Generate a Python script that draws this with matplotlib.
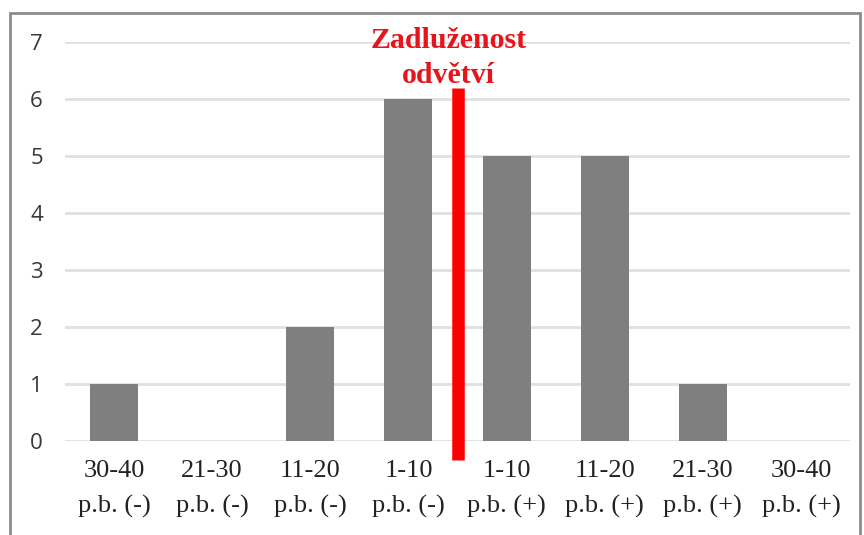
import matplotlib.pyplot as plt
from matplotlib.patches import Rectangle

categories = ["30-40\np.b. (-)", "21-30\np.b. (-)", "11-20\np.b. (-)", "1-10\np.b. (-)",
              "1-10\np.b. (+)", "11-20\np.b. (+)", "21-30\np.b. (+)", "30-40\np.b. (+)"]
counts = [1, 0, 2, 6, 5, 5, 1, 0]
marker_pos = 3.5
marker_label = "Zadluženost\nodvětví"

fig = plt.figure(figsize=(8.64, 5.35), dpi=100)
ax = fig.add_axes([65 / 864, 94 / 535, 785 / 864, 399 / 535])

x = list(range(len(categories)))
ax.bar(x, counts, width=0.49, color="#7f7f7f", zorder=2)

ax.set_xlim(-0.5, len(categories) - 0.5)
ax.set_ylim(0, 7)
ax.set_yticks(range(0, 8))
ax.grid(axis="y", color="#e0e0e0", linewidth=2, zorder=0)
ax.set_axisbelow(True)
for s in ax.spines.values():
    s.set_visible(False)
ax.tick_params(length=0)
ax.tick_params(axis="y", pad=16, labelsize=16, labelcolor="#383838")
ax.tick_params(axis="x", pad=14)
ax.set_xticks(x)
ax.set_xticklabels(categories, family="Liberation Serif", fontsize=19,
                   color="#222222", linespacing=1.72)
for lab in ax.get_yticklabels():
    lab.set_family("Open Sans")

# industry indebtedness marker
ax.plot([marker_pos, marker_pos], [-0.33, 6.2], color="#ff0000", linewidth=9,
        solid_capstyle="butt", clip_on=False, zorder=3)
ax.text(marker_pos - 0.09, 6.72, marker_label, color="#e8141c", fontsize=21.5,
        fontweight="bold", family="Liberation Serif", ha="center", va="center",
        linespacing=1.42)

fig.patches.append(Rectangle((10 / 864, -0.01), 850 / 864, 1 - 13 / 535 + 0.01,
                             transform=fig.transFigure, fill=False,
                             edgecolor="#8c8c8c", linewidth=2))

fig.savefig("out.png", dpi=100)
